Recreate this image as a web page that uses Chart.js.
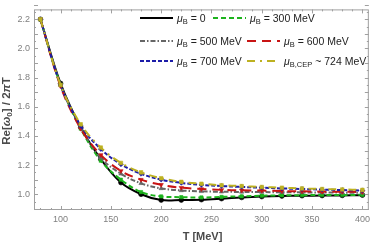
<!DOCTYPE html>
<html>
<head>
<meta charset="utf-8">
<script src="https://cdn.jsdelivr.net/npm/chart.js@4"></script>
<style>
  body { margin: 0; background: #fff; }
  #wrap { position: relative; width: 374px; height: 245px; font-family: "Liberation Sans", Arial, sans-serif; }
  #legend { position: absolute; left: 0; top: 0; width: 374px; height: 80px; pointer-events: none; }
  .item { position: absolute; font-size: 10.5px; color: #222; white-space: nowrap; line-height: 12px; }
  .item svg { position: absolute; top: 0; }
  .item span { position: absolute; top: 0; }
  .item sub { font-size: 7.5px; vertical-align: -2px; line-height: 0; }
  #xtitle { position: absolute; left: 0; width: 405px; top: 230px; text-align: center; font-size: 11px; font-weight: bold; color: #4a4a4a; }
  #ytitle { position: absolute; left: -49px; top: 105px; width: 110px; text-align: center; font-size: 11.5px; font-weight: bold; color: #4a4a4a; transform: rotate(-90deg); }
  #ytitle sub { font-size: 8px; vertical-align: -2px; line-height: 0; }
</style>
</head>
<body>
<div id="wrap">
  <canvas id="mycanvas" width="374" height="245"></canvas>
  <div id="legend"></div>
  <div id="xtitle">T [MeV]</div>
  <div id="ytitle">Re[<i>ω</i><sub>0</sub>] / 2<i>π</i>T</div>
</div>
<script>
var temps = [80, 100, 120, 140, 160, 180, 200, 220, 240, 260, 280, 300, 320, 340, 360, 380, 400];
var mu0   = [2.2, 1.76, 1.46, 1.24, 1.08, 1.0, 0.96, 0.96, 0.963, 0.97, 0.978, 0.984, 0.988, 0.99, 0.991, 0.992, 0.994];
var mu300 = [2.2, 1.75, 1.45, 1.23, 1.10, 1.015, 0.985, 0.98, 0.978, 0.982, 0.986, 0.99, 0.993, 0.994, 0.995, 0.995, 0.996];
var mu500 = [2.2, 1.75, 1.46, 1.25, 1.14, 1.075, 1.04, 1.026, 1.02, 1.017, 1.016, 1.015, 1.014, 1.013, 1.012, 1.011, 1.01];
var mu600 = [2.2, 1.74, 1.45, 1.27, 1.16, 1.10, 1.065, 1.045, 1.036, 1.03, 1.027, 1.025, 1.022, 1.02, 1.018, 1.017, 1.016];
var mu700 = [2.2, 1.75, 1.47, 1.31, 1.205, 1.14, 1.10, 1.078, 1.064, 1.056, 1.05, 1.045, 1.04, 1.036, 1.032, 1.029, 1.026];
var muCEP = [2.2, 1.75, 1.48, 1.32, 1.215, 1.15, 1.11, 1.085, 1.072, 1.062, 1.056, 1.05, 1.045, 1.04, 1.036, 1.033, 1.03];
var xTicks = [100, 150, 200, 250, 300, 350, 400];
var yTicks = [1.0, 1.2, 1.4, 1.6, 1.8, 2.0, 2.2];

var series = [
    { name: '<i>μ</i><sub>B</sub> = 0', data: mu0, color: '#000000', dash: [], pt: 'circle', r: 2.4, rot: 0 },
    { name: '<i>μ</i><sub>B</sub> = 300 MeV', data: mu300, color: '#1db31d', dash: [5, 3], pt: 'rect', r: 2.3, rot: 0 },
    { name: '<i>μ</i><sub>B</sub> = 500 MeV', data: mu500, color: '#666666', dash: [5, 2, 1.5, 2], pt: 'triangle', r: 2.5, rot: 0 },
    { name: '<i>μ</i><sub>B</sub> = 600 MeV', data: mu600, color: '#c81414', dash: [9, 6], pt: 'triangle', r: 2.5, rot: 180 },
    { name: '<i>μ</i><sub>B</sub> = 700 MeV', data: mu700, color: '#1c1ca8', dash: [4, 2], pt: 'rectRot', r: 2.4, rot: 0 },
    { name: '<i>μ</i><sub>B,CEP</sub> ~ 724 MeV', data: muCEP, color: '#bdb121', dash: [8, 5, 2, 5], pt: 'rect', r: 2.5, rot: 0 }
];

// draw order: CEP behind, black on top
var datasets = [];
for (var i = series.length - 1; i >= 0; i--) {
    var s = series[i];
    var pts = [];
    for (var j in temps) {
        pts.push({ x: temps[j], y: s.data[j] });
    }
    datasets.push({
        label: s.name,
        data: pts,
        borderColor: s.color,
        backgroundColor: s.color,
        borderDash: s.dash,
        borderWidth: 2,
        pointStyle: s.pt,
        pointRadius: s.r,
        pointRotation: s.rot,
        pointBorderWidth: 0.6,
        pointBorderColor: s.color,
        tension: 0.35
    });
}

var frameTicks = {
    id: 'frameTicks',
    afterDraw: function (chart) {
        var c = chart.ctx, a = chart.chartArea;
        var xs = chart.scales.x, ys = chart.scales.y;
        c.save();
        c.strokeStyle = '#a0a0a0';
        c.lineWidth = 1;
        c.strokeRect(a.left + 0.5, a.top + 0.5, a.right - a.left - 1, a.bottom - a.top - 1);
        c.beginPath();
        for (var v = 80; v <= 400; v += 10) {
            var p = Math.round(xs.getPixelForValue(v)) + 0.5;
            var len = (v % 50 === 0) ? 4 : 2;
            c.moveTo(p, a.bottom); c.lineTo(p, a.bottom - len);
            c.moveTo(p, a.top); c.lineTo(p, a.top + len);
        }
        for (var k = 0; k <= 28; k++) {
            var yv = 0.9 + k * 0.05;
            var q = Math.round(ys.getPixelForValue(yv)) + 0.5;
            var l2 = (k % 2 === 0 && yv >= 0.99) ? 4 : 2;
            c.moveTo(a.left, q); c.lineTo(a.left + l2, q);
            c.moveTo(a.right, q); c.lineTo(a.right - l2, q);
        }
        c.stroke();
        c.restore();
    }
};

var ctx = document.getElementById('mycanvas');
var lineGraph = new Chart(ctx, {
    type: 'line',
    data: { datasets: datasets },
    options: {
        responsive: false,
        animation: false,
        layout: { padding: { top: 4, right: 5, left: 0, bottom: 0 } },
        plugins: { legend: { display: false }, tooltip: { enabled: false } },
        scales: {
            x: {
                type: 'linear', min: 73.6, max: 406.4,
                afterBuildTicks: function (sc) { sc.ticks = xTicks.map(function (v) { return { value: v }; }); },
                afterFit: function (sc) { sc.height = 35; },
                grid: { display: false, drawTicks: false },
                border: { display: false },
                ticks: { color: '#808080', font: { size: 9, family: 'Liberation Sans' }, padding: 4, maxRotation: 0 }
            },
            y: {
                type: 'linear', min: 0.892, max: 2.268,
                afterBuildTicks: function (sc) { sc.ticks = yTicks.map(function (v) { return { value: v }; }); },
                afterFit: function (sc) { sc.width = 34; },
                grid: { display: false, drawTicks: false },
                border: { display: false },
                ticks: { color: '#808080', font: { size: 9, family: 'Liberation Sans' }, padding: 4,
                    callback: function (v) { return v.toFixed(1); } }
            }
        }
    },
    plugins: [frameTicks]
});

// legend, 3 rows x 2 columns (second column of row 1 sits further left)
var leg = document.getElementById('legend');
var legX = [140, 213, 140, 247, 140, 247];
var rows = [12, 35, 55];
for (var n = 0; n < series.length; n++) {
    var it = series[n];
    var d = document.createElement('div');
    d.className = 'item';
    d.style.left = legX[n] + 'px';
    d.style.top = rows[Math.floor(n / 2)] + 'px';
    var dashAttr = it.dash.length ? ' stroke-dasharray="' + it.dash.join(',') + '"' : '';
    d.innerHTML = '<svg width="34" height="12"><line x1="0" y1="6" x2="33" y2="6" stroke="' + it.color +
        '" stroke-width="2"' + dashAttr + '/></svg><span style="left:37px">' + it.name + '</span>';
    leg.appendChild(d);
}
</script>
</body>
</html>
